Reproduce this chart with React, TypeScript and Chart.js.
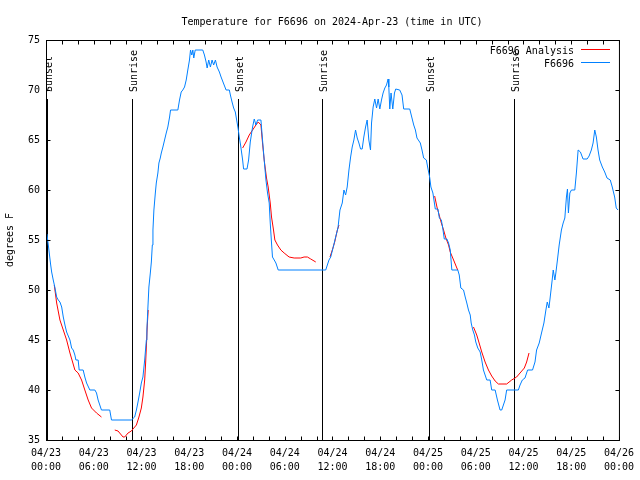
import React, { useEffect, useRef } from "react";
import { Chart, registerables } from "chart.js";

Chart.register(...registerables);

const TITLE = "Temperature for F6696 on 2024-Apr-23 (time in UTC)";
const Y_TITLE = "degrees F";
const FONT = "DejaVu Sans Mono";

// x axis: hours since 04/23 00:00 UTC
const xTickDates = ["04/23", "04/23", "04/23", "04/23", "04/24", "04/24", "04/24", "04/24", "04/25", "04/25", "04/25", "04/25", "04/26"];
const xTickTimes = ["00:00", "06:00", "12:00", "18:00", "00:00", "06:00", "12:00", "18:00", "00:00", "06:00", "12:00", "18:00", "00:00"];

const sunEventHours = [0.12, 10.82, 24.12, 34.74, 48.12, 58.76];
const sunEventLabels = ["Sunset", "Sunrise", "Sunset", "Sunrise", "Sunset", "Sunrise"];

const seriesLabels = ["F6696 Analysis", "F6696"];
const seriesColors = ["#ff0000", "#0080ff"];

// F6696 observations
const blueHours = [
  0.12, 0.29, 0.41, 0.59, 0.71, 0.91, 1.13, 1.34, 1.54, 1.75, 1.97, 2.17, 2.38, 2.59, 3.01, 3.22, 3.42, 3.63, 3.76, 4.04,
  4.17, 4.67, 4.88, 5.1, 5.51, 6.14, 6.35, 6.55, 6.76, 6.97, 8.01, 8.23, 10.73, 11.14, 11.36, 11.56, 11.77, 11.98, 12.18, 12.4,
  12.61, 12.68, 12.81, 12.93, 13.11, 13.24, 13.36, 13.44, 13.56, 13.74, 13.86, 14.06, 14.19, 14.36, 14.49, 14.69, 14.9, 15.11, 15.31, 15.53,
  15.65, 16.57, 16.78, 16.99, 17.19, 17.41, 17.62, 17.82, 18.03, 18.16, 18.32, 18.45, 18.57, 18.75, 19.7, 19.91, 20.12, 20.25, 20.45, 20.66,
  20.87, 21.07, 21.29, 21.5, 21.79, 22.0, 22.29, 22.63, 23.04, 23.17, 23.38, 23.58, 23.79, 23.96, 24.13, 24.29, 24.45, 24.71, 24.83, 25.26,
  25.46, 25.67, 25.96, 26.17, 26.38, 26.59, 27.01, 27.21, 27.42, 27.64, 27.84, 28.05, 28.18, 28.34, 28.46, 28.68, 28.89, 29.18, 35.15, 35.56,
  35.78, 36.1, 36.4, 36.69, 36.94, 37.23, 37.44, 37.65, 37.85, 38.07, 38.28, 38.48, 38.69, 38.9, 39.11, 39.32, 39.53, 39.73, 39.94, 40.16,
  40.36, 40.57, 40.78, 40.91, 41.11, 41.32, 41.54, 41.74, 41.95, 42.16, 42.36, 42.58, 42.79, 42.99, 43.08, 43.2, 43.36, 43.58, 43.79, 43.95,
  44.45, 44.74, 44.95, 45.71, 45.99, 46.21, 46.42, 46.62, 47.04, 47.25, 47.46, 47.8, 47.96, 48.21, 48.37, 48.62, 48.92, 49.25, 49.43, 49.68,
  49.84, 50.05, 50.38, 50.59, 50.8, 51.0, 51.75, 51.93, 52.13, 52.47, 52.68, 52.88, 53.09, 53.31, 53.43, 53.63, 53.84, 54.01, 54.26, 54.56,
  54.76, 54.97, 55.39, 55.81, 56.01, 56.44, 56.73, 57.06, 57.27, 57.48, 57.69, 57.89, 59.36, 59.57, 59.86, 60.19, 60.52, 61.14, 61.45, 61.65,
  61.98, 62.27, 62.57, 62.82, 62.99, 63.2, 63.32, 63.61, 63.74, 63.95, 64.07, 64.27, 64.49, 64.77, 64.99, 65.2, 65.4, 65.53, 65.65, 65.83,
  66.03, 66.45, 66.65, 66.87, 67.16, 67.49, 68.0, 68.25, 68.53, 68.75, 68.96, 69.16, 69.37, 69.58, 69.91, 70.21, 70.5, 70.91, 71.16, 71.46,
  71.66, 71.88,
];
const blueTemps = [
  55.6, 54.5, 53.7, 52.5, 51.8, 51.0, 50.2, 49.3, 49.0, 48.8, 48.3, 47.3, 46.5, 45.8, 45.0, 44.2, 44.0, 43.5, 43.0, 43.0,
  42.0, 42.0, 41.3, 40.7, 40.0, 40.0, 39.7, 39.0, 38.5, 38.0, 38.0, 37.0, 37.0, 37.3, 38.0, 38.8, 39.7, 40.7, 41.3, 43.0,
  45.0, 46.0, 48.3, 50.3, 51.7, 52.8, 54.5, 56.0, 58.0, 59.7, 60.7, 61.7, 62.7, 63.2, 63.7, 64.3, 65.0, 65.7, 66.3, 67.3,
  68.0, 68.0, 69.0, 69.8, 70.0, 70.3, 71.0, 72.0, 73.0, 74.0, 73.5, 74.0, 73.2, 74.0, 74.0, 73.5, 72.8, 72.2, 73.0, 72.3,
  73.0, 72.5, 73.0, 72.3, 71.8, 71.3, 70.7, 70.0, 70.0, 69.5, 68.8, 68.2, 67.8, 67.0, 66.2, 65.3, 64.5, 63.0, 62.1, 62.1,
  63.0, 64.8, 66.3, 67.1, 66.5, 67.0, 67.0, 65.0, 63.0, 61.0, 59.7, 58.7, 56.7, 54.7, 53.3, 53.0, 52.7, 52.0, 52.0, 53.0,
  53.3, 54.3, 55.3, 56.2, 58.0, 58.7, 60.0, 59.5, 60.3, 62.0, 63.3, 64.3, 65.0, 66.0, 65.2, 64.7, 64.1, 64.1, 65.3, 66.3,
  67.0, 65.0, 64.0, 66.7, 68.3, 69.1, 68.2, 69.1, 68.1, 69.0, 69.7, 70.2, 70.5, 71.1, 70.3, 68.1, 69.7, 68.1, 69.7, 70.1,
  70.0, 69.5, 68.1, 68.1, 67.2, 66.5, 66.0, 65.2, 64.7, 64.0, 63.2, 63.0, 62.3, 61.3, 60.3, 59.7, 58.1, 58.1, 57.2, 57.0,
  56.3, 55.1, 55.1, 54.7, 54.0, 52.0, 52.0, 51.5, 50.2, 50.0, 49.3, 48.7, 48.0, 47.5, 46.7, 46.0, 45.5, 44.8, 44.2, 43.8,
  43.0, 42.0, 41.0, 41.0, 40.0, 40.0, 39.0, 38.0, 38.0, 38.5, 39.0, 40.0, 40.0, 40.5, 41.0, 41.2, 42.0, 42.0, 42.8, 44.0,
  44.7, 45.7, 46.7, 48.0, 48.8, 48.2, 49.0, 51.0, 52.0, 51.0, 51.7, 53.0, 54.5, 56.0, 56.7, 57.2, 59.3, 60.1, 57.7, 59.7,
  60.0, 60.0, 61.7, 64.0, 63.8, 63.1, 63.1, 63.4, 64.0, 64.7, 66.0, 65.3, 64.0, 63.0, 62.3, 61.8, 61.2, 61.0, 60.3, 59.3,
  58.2, 58.0,
];

// F6696 Analysis (null = gap between analysis runs)
const redHours = [
  1.04, 1.34, 1.75, 2.17, 2.59, 3.01, 3.34, 3.63, 4.04, 4.47, 4.88, 5.3, 5.72, 6.35, 6.97,
  7.8,
  8.64, 9.05, 9.68, 9.89, 10.31, 10.73, 10.93, 11.36, 11.68, 11.98, 12.18, 12.4, 12.52, 12.61, 12.73, 12.84,
  18.0,
  24.71, 25.13, 25.54, 25.96, 26.38, 26.67, 27.01, 27.21, 27.42, 27.71, 27.92, 28.18, 28.34, 28.59, 28.76, 29.09, 29.51, 29.93, 30.55, 31.18, 32.02, 32.43, 32.85, 33.27, 33.9,
  34.8,
  35.69, 35.98, 36.28, 36.61, 36.82,
  42.0,
  48.84, 49.13, 49.34, 49.68, 49.96, 50.25, 50.59, 50.8, 51.22, 51.63, 51.75,
  52.7,
  53.72, 54.13, 54.43, 54.76, 55.18, 55.6, 56.01, 56.44, 56.85, 57.89, 58.52, 59.14, 59.57, 60.11, 60.4, 60.7,
];
const redTemps = [
  50.5, 48.7, 47.0, 46.0, 45.0, 43.7, 42.8, 42.0, 41.7, 41.0, 40.0, 39.0, 38.2, 37.7, 37.3,
  null,
  36.0, 35.9, 35.3, 35.3, 35.7, 35.9, 36.1, 36.5, 37.3, 38.2, 39.3, 41.0, 42.7, 44.3, 46.5, 48.0,
  null,
  64.2, 64.8, 65.5, 66.0, 66.5, 66.8, 66.5, 64.7, 63.0, 61.2, 60.3, 58.7, 57.3, 56.0, 55.0, 54.5, 54.0, 53.7, 53.3, 53.2, 53.2, 53.3, 53.3, 53.1, 52.8,
  null,
  53.3, 54.0, 54.8, 56.0, 56.5,
  null,
  59.4, 58.3, 57.7, 56.7, 56.0, 55.2, 54.5, 53.8, 53.0, 52.2, 52.0,
  null,
  46.3, 45.5, 44.7, 43.8, 42.8, 42.0, 41.4, 40.9, 40.6, 40.6, 41.0, 41.3, 41.7, 42.2, 42.8, 43.7,
];

const X_MIN = 0;
const X_MAX = 72;
const Y_MIN = 35;
const Y_MAX = 75;

const gnuplotFrame = {
  id: "gnuplotFrame",
  beforeDatasetsDraw(chart: any) {
    const { ctx, chartArea, scales } = chart;
    const xs = scales.x;
    ctx.save();
    ctx.beginPath();
    ctx.rect(chartArea.left, 0, chartArea.right - chartArea.left, chart.height);
    ctx.clip();
    ctx.strokeStyle = "#000";
    ctx.fillStyle = "#000";
    ctx.lineWidth = 1;
    ctx.font = `10px "${FONT}"`;
    sunEventHours.forEach((h, i) => {
      const px = Math.round(xs.getPixelForValue(h)) + 0.5;
      ctx.beginPath();
      ctx.moveTo(px, chartArea.bottom);
      ctx.lineTo(px, 99);
      ctx.stroke();
      ctx.save();
      ctx.translate(px + 4.5, 92);
      ctx.rotate(-Math.PI / 2);
      ctx.textAlign = "left";
      ctx.textBaseline = "alphabetic";
      ctx.fillText(sunEventLabels[i], 0, 0);
      ctx.restore();
    });
    ctx.restore();
  },
  afterDatasetsDraw(chart: any) {
    const { ctx, chartArea, scales } = chart;
    const xs = scales.x;
    const ys = scales.y;
    const L = chartArea.left + 0.5;
    const R = chartArea.right + 0.5;
    const T = chartArea.top + 0.5;
    const B = chartArea.bottom + 0.5;
    ctx.save();
    ctx.strokeStyle = "#000";
    ctx.lineWidth = 1;
    ctx.strokeRect(L, T, R - L, B - T);
    ctx.beginPath();
    for (let h = X_MIN; h <= X_MAX; h += 2) {
      const px = Math.round(xs.getPixelForValue(h)) + 0.5;
      const len = 4;
      ctx.moveTo(px, B);
      ctx.lineTo(px, B - len);
      ctx.moveTo(px, T);
      ctx.lineTo(px, T + len);
    }
    for (let v = Y_MIN; v <= Y_MAX; v += 5) {
      const py = Math.round(ys.getPixelForValue(v)) + 0.5;
      ctx.moveTo(L, py);
      ctx.lineTo(L + 4, py);
      ctx.moveTo(R, py);
      ctx.lineTo(R - 4, py);
    }
    ctx.stroke();

    // legend
    ctx.font = `10px "${FONT}"`;
    ctx.fillStyle = "#000";
    ctx.textAlign = "right";
    ctx.textBaseline = "alphabetic";
    seriesLabels.forEach((lab, i) => {
      const base = 54 + i * 13;
      ctx.fillText(lab, 574, base);
      ctx.strokeStyle = seriesColors[i];
      ctx.beginPath();
      ctx.moveTo(581, base - 4.5);
      ctx.lineTo(610, base - 4.5);
      ctx.stroke();
    });

    // title
    ctx.textAlign = "center";
    ctx.fillStyle = "#000";
    ctx.fillText(TITLE, 332, 25);
    ctx.restore();
  },
};

export default function App() {
  const ref = useRef<HTMLCanvasElement | null>(null);
  useEffect(() => {
    if (!ref.current) return;
    const redData = redHours.map((h, i) => ({ x: h, y: redTemps[i] }));
    const blueData = blueHours.map((h, i) => ({ x: h, y: blueTemps[i] }));
    const chart = new Chart(ref.current, {
      type: "line",
      data: {
        datasets: [
          {
            label: seriesLabels[0],
            data: redData as any,
            borderColor: seriesColors[0],
            backgroundColor: seriesColors[0],
            borderWidth: 1,
            pointRadius: 0,
            spanGaps: false,
            order: 1,
          },
          {
            label: seriesLabels[1],
            data: blueData as any,
            borderColor: seriesColors[1],
            backgroundColor: seriesColors[1],
            borderWidth: 1,
            pointRadius: 0,
            order: 0,
          },
        ],
      },
      options: {
        responsive: false,
        animation: false,
        layout: { padding: { left: 0, right: 19, top: 40, bottom: 0 } },
        plugins: {
          legend: { display: false },
          tooltip: { enabled: false },
          title: { display: false },
        },
        elements: { line: { tension: 0 }, point: { radius: 0 } },
        scales: {
          x: {
            type: "linear",
            min: X_MIN,
            max: X_MAX,
            grid: { display: false, drawTicks: false },
            border: { display: false },
            ticks: {
              stepSize: 6,
              autoSkip: false,
              maxRotation: 0,
              minRotation: 0,
              padding: 6,
              color: "#000",
              font: { family: FONT, size: 10, lineHeight: 1.4 },
              callback: (value: any) => {
                const i = Math.round(Number(value) / 6);
                return [xTickDates[i], xTickTimes[i]];
              },
            },
            afterFit: (s: any) => {
              s.height = 40;
            },
          },
          y: {
            min: Y_MIN,
            max: Y_MAX,
            grid: { display: false, drawTicks: false },
            border: { display: false },
            ticks: {
              stepSize: 5,
              padding: 6,
              color: "#000",
              font: { family: FONT, size: 10 },
            },
            title: {
              display: true,
              text: Y_TITLE,
              color: "#000",
              font: { family: FONT, size: 10 },
              padding: { top: 4, bottom: 4 },
            },
            afterFit: (s: any) => {
              s.width = 46;
            },
          },
        },
      },
      plugins: [gnuplotFrame],
    });
    return () => chart.destroy();
  }, []);
  return (
    <div style={{ position: "fixed", left: 0, top: 0, width: 640, height: 480, background: "#fff" }}>
      <canvas ref={ref} width={640} height={480} style={{ display: "block" }} />
    </div>
  );
}
